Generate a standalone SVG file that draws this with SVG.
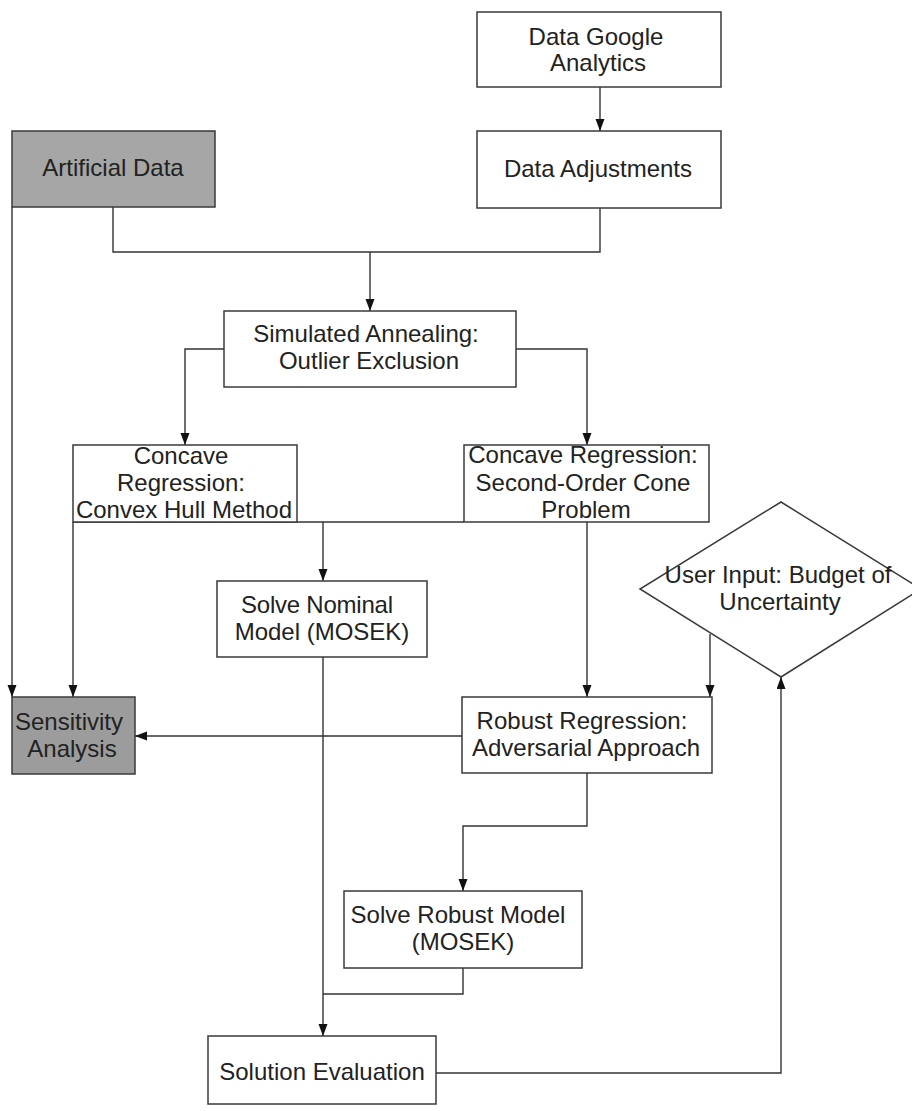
<svg xmlns="http://www.w3.org/2000/svg" width="912" height="1111" viewBox="0 0 912 1111">
<style>
.box{fill:#fff;stroke:#3a3a3a;stroke-width:1.5}
.gray{fill:#a6a6a6}
.t{font-family:"Liberation Sans",Arial,sans-serif;font-size:24px;fill:#222;text-anchor:middle}
.c{fill:none;stroke:#333;stroke-width:1.4}
.a{marker-end:url(#arr)}
</style>
<defs>
<marker id="arr" markerUnits="userSpaceOnUse" markerWidth="12" markerHeight="10" refX="12" refY="4.5" orient="auto">
<path d="M0,0 L12,4.5 L0,9 z" fill="#111"/>
</marker>
</defs>
<rect width="912" height="1111" fill="#fff"/>
<g id="connectors">
<path class="c a" d="M600,87 V131"/>
<path class="c" d="M113,207 V252 H600 V208"/>
<path class="c a" d="M370,252 V311"/>
<path class="c a" d="M12,207 V697"/>
<path class="c a" d="M224,349 H185 V445"/>
<path class="c a" d="M516,349 H587 V445"/>
<path class="c" d="M73,522 H464"/>
<path class="c a" d="M323,522 V581"/>
<path class="c a" d="M73,522 V697"/>
<path class="c a" d="M587,522 V697"/>
<path class="c a" d="M710,634 V697"/>
<path class="c a" d="M462,736 H135"/>
<path class="c a" d="M323,657 V1036"/>
<path class="c a" d="M587,773 V826 H463 V891"/>
<path class="c" d="M463,968 V994 H323"/>
<path class="c a" d="M436,1073 H781 V677"/>
</g>
<g id="data-google">
<rect class="box" x="477" y="12" width="244" height="75"/>
<text class="t" x="596" y="45">Data Google</text>
<text class="t" x="598" y="71">Analytics</text>
</g>
<g id="data-adjustments">
<rect class="box" x="477" y="131" width="244" height="77"/>
<text class="t" x="598" y="177">Data Adjustments</text>
</g>
<g id="artificial-data">
<rect class="box gray" x="12" y="131" width="203" height="76"/>
<text class="t" x="113" y="176">Artificial Data</text>
</g>
<g id="simulated-annealing">
<rect class="box" x="224" y="311" width="292" height="76"/>
<text class="t" x="366" y="342">Simulated Annealing:</text>
<text class="t" x="369" y="369">Outlier Exclusion</text>
</g>
<g id="concave-hull">
<rect class="box" x="73" y="445" width="224" height="77"/>
<text class="t" x="181" y="464">Concave</text>
<text class="t" x="181" y="491">Regression:</text>
<text class="t" x="184" y="518">Convex Hull Method</text>
</g>
<g id="concave-socp">
<rect class="box" x="464" y="445" width="245" height="77"/>
<text class="t" x="583" y="463">Concave Regression:</text>
<text class="t" x="583" y="491">Second-Order Cone</text>
<text class="t" x="586" y="518">Problem</text>
</g>
<g id="solve-nominal">
<rect class="box" x="217" y="581" width="210" height="76"/>
<text class="t" x="317" y="613" textLength="152" lengthAdjust="spacing">Solve Nominal</text>
<text class="t" x="322" y="640">Model (MOSEK)</text>
</g>
<g id="user-input">
<polygon class="box" points="781,502 921,589 781,677 640,589"/>
<text class="t" x="778" y="583">User Input: Budget of</text>
<text class="t" x="780" y="610">Uncertainty</text>
</g>
<g id="sensitivity-analysis">
<rect class="box" x="12" y="697" width="123" height="77" style="fill:#9c9c9c"/>
<text class="t" x="69" y="730">Sensitivity</text>
<text class="t" x="72" y="757">Analysis</text>
</g>
<g id="robust-regression">
<rect class="box" x="462" y="697" width="250" height="76"/>
<text class="t" x="582" y="729">Robust Regression:</text>
<text class="t" x="586" y="756">Adversarial Approach</text>
</g>
<g id="solve-robust">
<rect class="box" x="344" y="891" width="238" height="77"/>
<text class="t" x="458" y="923">Solve Robust Model</text>
<text class="t" x="463" y="950">(MOSEK)</text>
</g>
<g id="solution-evaluation">
<rect class="box" x="208" y="1036" width="228" height="68"/>
<text class="t" x="322" y="1080">Solution Evaluation</text>
</g>
</svg>
